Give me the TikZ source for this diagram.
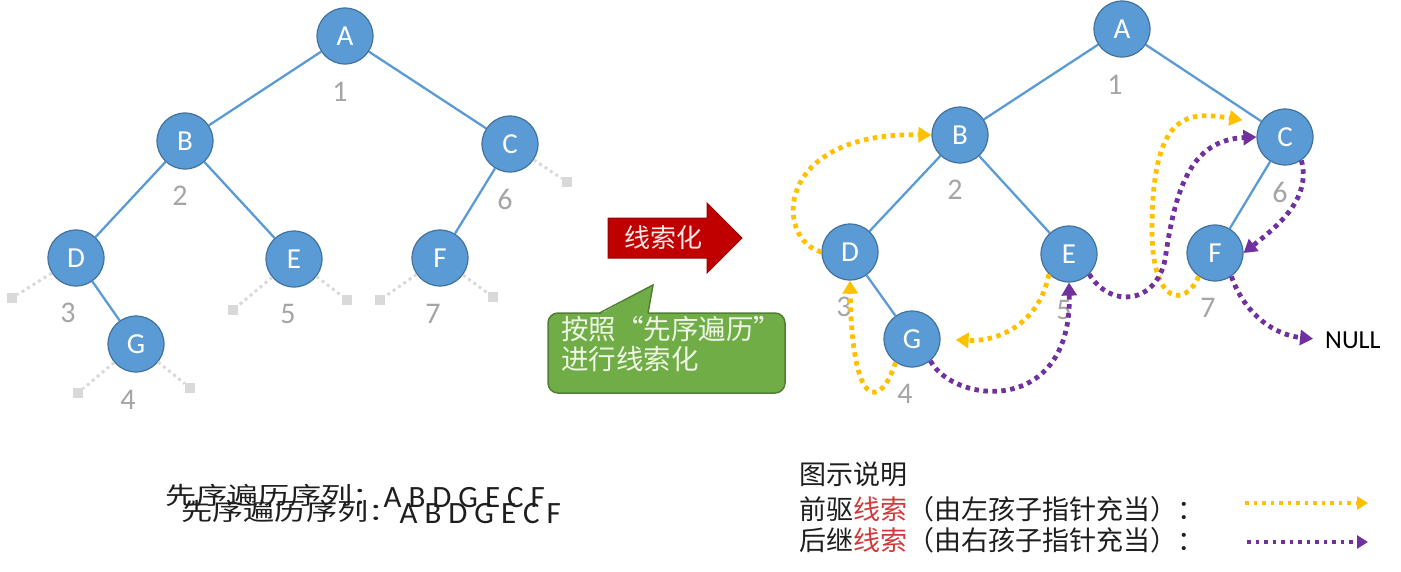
\documentclass[tikz,border=0pt]{standalone}
\usepackage{fontspec}
\usepackage{graphicx}
\setmainfont{Carlito}
\newfontfamily\cjk{Noto Sans CJK SC}
\usetikzlibrary{arrows.meta}
\definecolor{nodeblue}{HTML}{5B9BD5}
\definecolor{nodeborder}{HTML}{41719C}
\definecolor{edgeblue}{HTML}{5B9BD5}
\definecolor{numgray}{HTML}{A5A5A5}
\definecolor{nullgray}{HTML}{D9D9D9}
\definecolor{thyellow}{HTML}{FFC000}
\definecolor{thpurple}{HTML}{7030A0}
\definecolor{arrowred}{HTML}{C00000}
\definecolor{arrowredborder}{HTML}{9A0000}
\definecolor{calloutgreen}{HTML}{70AD47}
\definecolor{calloutborder}{HTML}{507E32}
\definecolor{callouttext}{HTML}{EEF6E4}
\definecolor{legendred}{HTML}{D03A3A}
\definecolor{darktext}{HTML}{1E1E1E}
\definecolor{arrowtext}{HTML}{FBE6E6}
\begin{document}
\begin{tikzpicture}[x=1pt,y=-1pt,
 tn/.style={circle, fill=nodeblue, draw=nodeborder, line width=1.2pt, minimum size=56pt, inner sep=0pt, text=white, font=\fontsize{29}{29}\selectfont},
 edge/.style={draw=edgeblue, line width=2.3pt},
 num/.style={text=numgray, font=\fontsize{30}{30}\selectfont, inner sep=0pt},
 nullsq/.style={fill=nullgray, minimum size=10pt, inner sep=0pt},
 nullline/.style={draw=nullgray, line width=3pt, dash pattern=on 3pt off 3.5pt},
 pre/.style={draw=thyellow, line width=4.8pt, dash pattern=on 4.5pt off 4.5pt, -{Triangle[length=13pt,width=15pt]}},
 suc/.style={draw=thpurple, line width=4.8pt, dash pattern=on 4.5pt off 4.5pt, -{Triangle[length=13pt,width=15pt]}},
 legpre/.style={draw=thyellow, line width=3.5pt, dash pattern=on 3.5pt off 5pt, -{Triangle[length=11pt,width=13pt]}},
 legsuc/.style={draw=thpurple, line width=3.5pt, dash pattern=on 3.5pt off 5pt, -{Triangle[length=11pt,width=13pt]}},
 cjktext/.style={font=\cjk\fontsize{27}{27}\selectfont, inner sep=0pt},
]
\useasboundingbox (0,0) rectangle (1401,571);

% ---------- left tree ----------
\node[tn] (lA) at (345,36) {A};
\node[tn] (lB) at (185,141) {B};
\node[tn] (lC) at (510,144) {C};
\node[tn] (lD) at (76,258) {D};
\node[tn] (lE) at (294,259) {E};
\node[tn] (lF) at (440,258) {F};
\node[tn] (lG) at (136,344) {G};
\draw[edge] (lA) -- (lB);
\draw[edge] (lA) -- (lC);
\draw[edge] (lB) -- (lD);
\draw[edge] (lB) -- (lE);
\draw[edge] (lC) -- (lF);
\draw[edge] (lD) -- (lG);

\node[num] (ln1) at (340,92) {1};
\node[num] (ln2) at (180,196) {2};
\node[num] (ln6) at (505,199) {6};
\node[num] (ln3) at (68,313) {3};
\node[num] (ln5) at (288,314) {5};
\node[num] (ln7) at (433,314) {7};
\node[num] (ln4) at (128,400) {4};

\node[nullsq] (zD) at (12,298) {};
\node[nullsq] (zGl) at (78,393) {};
\node[nullsq] (zGr) at (190,388) {};
\node[nullsq] (zEl) at (233,310) {};
\node[nullsq] (zEr) at (347,300) {};
\node[nullsq] (zFl) at (380,300) {};
\node[nullsq] (zFr) at (493,297) {};
\node[nullsq] (zC) at (567,182) {};
\draw[nullline] (lD) -- (zD);
\draw[nullline] (lG) -- (zGl);
\draw[nullline] (lG) -- (zGr);
\draw[nullline] (lE) -- (zEl);
\draw[nullline] (lE) -- (zEr);
\draw[nullline] (lF) -- (zFl);
\draw[nullline] (lF) -- (zFr);
\draw[nullline] (lC) -- (zC);

% ---------- middle ----------
\path[fill=arrowred, draw=arrowredborder, line width=1pt] (608,218) -- (707,218) -- (707,203) -- (742,238) -- (707,273) -- (707,258) -- (608,258) -- cycle;
\node[font=\cjk\fontsize{26}{26}\selectfont, text=arrowtext, inner sep=0pt] (thr) at (663,238) {线索化};

\path[fill=calloutgreen, draw=calloutborder, line width=1.5pt, rounded corners=10pt] (548,313) rectangle (785,393);
\path[fill=calloutgreen] (598.5,315) -- (653,285) -- (648,315) -- cycle;
\draw[calloutborder, line width=1.5pt] (599.5,313) -- (653,285) -- (648,313);
\node[font=\cjk\fontsize{27.5}{30}\selectfont, text=callouttext, align=left, anchor=north west, inner sep=0pt] (ctext) at (561,316)
  {按照\makebox[27.5pt][r]{“}先序遍历\makebox[27.5pt][l]{”}\\进行线索化};

% ---------- right tree ----------
\node[tn] (rA) at (1122,29) {A};
\node[tn] (rB) at (960,135) {B};
\node[tn] (rC) at (1285,137) {C};
\node[tn] (rD) at (850,252) {D};
\node[tn] (rE) at (1069,254) {E};
\node[tn] (rF) at (1215,253) {F};
\node[tn] (rG) at (912,339) {G};
\draw[edge] (rA) -- (rB);
\draw[edge] (rA) -- (rC);
\draw[edge] (rB) -- (rD);
\draw[edge] (rB) -- (rE);
\draw[edge] (rC) -- (rF);
\draw[edge] (rD) -- (rG);

\node[num] (rn1) at (1115,85) {1};
\node[num] (rn2) at (955,190) {2};
\node[num] (rn6) at (1280,192) {6};
\node[num] (rn3) at (844,307) {3};
\node[num] (rn5) at (1064,310) {5};
\node[num] (rn7) at (1208,308) {7};
\node[num] (rn4) at (905,394) {4};

\node[font=\fontsize{26}{26}\selectfont, text=black, inner sep=0pt, anchor=west] (nul) at (1325,340) {NULL};

% predecessor threads
\draw[pre] (rD.west) .. controls (775,240) and (772,132) .. (rB.west);
\draw[pre] (rG.235) .. controls (880,410) and (852,410) .. (rD.south);
\draw[pre, shorten >=15pt] (rE.225) .. controls (1040,322) and (1000,342) .. (rG.east);
\draw[pre, shorten >=18pt] (rF.235) .. controls (1185,308) and (1152,305) .. (1152,230) .. controls (1152,108) and (1190,112) .. (rC.150);

% successor threads
\draw[suc] (rG.-50) .. controls (955,405) and (1072,415) .. (rE.south);
\draw[suc] (rE.-45) .. controls (1110,308) and (1155,305) .. (1165,260) .. controls (1175,190) and (1190,140) .. (rC.west);
\draw[suc] (rC.-55) .. controls (1312,200) and (1275,228) .. (rF.east);
\draw[suc, shorten >=12pt] (rF.-55) .. controls (1245,315) and (1275,335) .. (nul.west);

% ---------- bottom sequence text (doubled) ----------
\node[anchor=base west, inner sep=0pt, text=darktext] (seq1) at (165,507)
  {\raisebox{3pt}{\scalebox{1.3}[1]{\cjk\fontsize{24}{24}\selectfont 先序遍历序列：}}\fontsize{31}{31}\selectfont A B D G E C F};
\node[anchor=base west, inner sep=0pt, text=darktext] (seq2) at (181,523)
  {\raisebox{3pt}{\scalebox{1.3}[1]{\cjk\fontsize{24}{24}\selectfont 先序遍历序列：}}\fontsize{31}{31}\selectfont A B D G E C F};

% ---------- legend ----------
\node[cjktext, anchor=base west, text=darktext] (lg1) at (799,484) {图示说明};
\node[cjktext, anchor=base west, text=darktext] (lg2) at (799,519) {前驱\textcolor{legendred}{线索}（由左孩子指针充当）：};
\node[cjktext, anchor=base west, text=darktext] (lg3) at (799,550) {后继\textcolor{legendred}{线索}（由右孩子指针充当）：};
\coordinate (ly0) at (1245,503);
\coordinate (ly1) at (1368,503);
\coordinate (lp0) at (1247,542);
\coordinate (lp1) at (1368,542);
\draw[legpre] (ly0) -- (ly1);
\draw[legsuc] (lp0) -- (lp1);
\end{tikzpicture}
\end{document}
